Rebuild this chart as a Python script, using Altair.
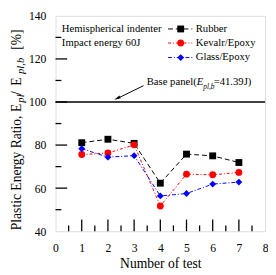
import altair as alt
import pandas as pd

# ---- data ----
tests = [1, 2, 3, 4, 5, 6, 7]
rubber = [81.1, 82.7, 80.8, 62.3, 75.8, 75.0, 71.9]
kevlar = [75.6, 76.3, 80.1, 51.7, 66.5, 66.2, 67.3]
glass = [78.3, 74.4, 75.1, 56.4, 57.5, 61.9, 62.8]

series_names = ["Rubber", "Kevalr/Epoxy", "Glass/Epoxy"]
series_colors = ["#000000", "#ff0000", "#0000ff"]
series_shapes = ["square", "circle", "diamond"]
series_dashes = [[5, 3], [3, 2, 1, 2], [4, 2, 1, 2]]

base_value = [100]
x_labels = [0, 1, 2, 3, 4, 5, 6, 7, 8]
y_labels = [40, 60, 80, 100, 120, 140]
x_major = [1, 2, 3, 4, 5, 6, 7]
x_minor = [0.5, 1.5, 2.5, 3.5, 4.5, 5.5, 6.5, 7.5]
y_major = [60, 80, 100, 120]
y_minor = [50, 70, 90, 110, 130]

FONT = "Liberation Serif"
W, H = 216, 222

rows = []
for name, vals in zip(series_names, [rubber, kevlar, glass]):
    for t, v in zip(tests, vals):
        rows.append({"test": t, "value": v, "series": name})
df = pd.DataFrame(rows)

xscale = alt.Scale(domain=[0, 8], nice=False, zero=False)
yscale = alt.Scale(domain=[40, 140], nice=False, zero=False)

color = alt.Color("series:N", scale=alt.Scale(domain=series_names, range=series_colors), legend=None)
shape = alt.Shape("series:N", scale=alt.Scale(domain=series_names, range=series_shapes), legend=None)
dash = alt.StrokeDash("series:N", scale=alt.Scale(domain=series_names, range=series_dashes), legend=None)

xaxis = alt.Axis(values=x_labels, title="Number of test", grid=False, ticks=False, tickSize=0,
                 domain=False, labelFont=FONT, labelFontSize=12, labelColor="black",
                 labelBaseline="alphabetic", labelPadding=21, labelFlush=False,
                 titleFont=FONT, titleFontSize=14, titleFontWeight="normal", titleColor="black",
                 titleBaseline="alphabetic", titleY=37, format="d")
yaxis = alt.Axis(values=y_labels, title=None, grid=False, ticks=False, tickSize=0, domain=False,
                 labelFont=FONT, labelFontSize=12, labelColor="black", labelPadding=10,
                 labelFlush=False, format="d")


def X(f):
    return alt.X(f, scale=xscale, axis=xaxis, title="Number of test")


def Y(f):
    return alt.Y(f, scale=yscale, axis=yaxis, title=None)


lines = alt.Chart(df).mark_line(strokeWidth=1).encode(
    x=X("test:Q"), y=Y("value:Q"),
    color=color, strokeDash=dash, detail="series:N")

points = alt.Chart(df).mark_point(filled=True, opacity=1, size=50).encode(
    x=X("test:Q"), y=Y("value:Q"), color=color, shape=shape)

base = alt.Chart(pd.DataFrame({"value": base_value})).mark_rule(color="black", strokeWidth=1.5).encode(
    y=Y("value:Q"))

ytick_maj = alt.Chart(pd.DataFrame({"value": y_major})).mark_rule(color="black", strokeWidth=1.3).encode(
    y=Y("value:Q"), x=alt.value(0), x2=alt.value(12))
ytick_min = alt.Chart(pd.DataFrame({"value": y_minor})).mark_rule(color="black", strokeWidth=1.3).encode(
    y=Y("value:Q"), x=alt.value(0), x2=alt.value(6))
xtick_maj = alt.Chart(pd.DataFrame({"test": x_major})).mark_rule(color="black", strokeWidth=1.3).encode(
    x=X("test:Q"), y=alt.value(H), y2=alt.value(H - 12))
xtick_min = alt.Chart(pd.DataFrame({"test": x_minor})).mark_rule(color="black", strokeWidth=1.3).encode(
    x=X("test:Q"), y=alt.value(H), y2=alt.value(H - 6))

one = pd.DataFrame({"a": [0]})


def txt(s, x, y, size=11, style="normal", angle=0, baseline="middle"):
    return alt.Chart(one).mark_text(text=s, font=FONT, fontSize=size, fontStyle=style,
                                    align="left", baseline=baseline, angle=angle,
                                    color="black").encode(x=alt.value(x), y=alt.value(y))


layers = [lines, points, base, ytick_maj, ytick_min, xtick_maj, xtick_min]

# legend (drawn by hand)
leg_y = [13.5, 28, 43]
for name, col, shp, dsh, ly in zip(series_names, series_colors, series_shapes, series_dashes, leg_y):
    layers.append(alt.Chart(one).mark_rule(color=col, strokeWidth=1, strokeDash=dsh).encode(
        x=alt.value(116), x2=alt.value(141), y=alt.value(ly)))
    layers.append(alt.Chart(one).mark_point(color=col, filled=True, opacity=1, shape=shp, size=50).encode(
        x=alt.value(129), y=alt.value(ly)))
    layers.append(txt(name, 144.5, ly))

layers.append(txt("Hemispherical indenter", 6.5, 13.3))
layers.append(txt("Impact energy 60J", 6.5, 28.3))

# base-panel annotation
layers.append(txt("Base panel(", 94, 71.3, baseline="alphabetic"))
layers.append(txt("E", 145.6, 71.3, style="italic", baseline="alphabetic"))
layers.append(txt("pl,b", 152.3, 75, size=7.5, style="italic", baseline="alphabetic"))
layers.append(txt("=41.39J)", 163, 71.3, baseline="alphabetic"))
layers.append(alt.Chart(one).mark_rule(color="black", strokeWidth=1).encode(
    x=alt.value(90.7), y=alt.value(72), x2=alt.value(63), y2=alt.value(85.5)))
layers.append(alt.Chart(one).mark_point(color="black", filled=True, opacity=1,
                                        shape="M0,-1L0.45,1L-0.45,1Z", size=45, angle=244).encode(
    x=alt.value(63.5), y=alt.value(85)))

# y-axis title with subscripts (rotated pieces)
layers.append(txt("Plastic Energy Ratio, E", -36, 221, size=14, angle=270, baseline="alphabetic"))
layers.append(txt("pl", -32.5, 89.5, size=11, style="italic", angle=270, baseline="alphabetic"))
layers.append(txt("/", -36, 81.5, size=14, angle=270, baseline="alphabetic"))
layers.append(txt("E", -36, 72, size=14, angle=270, baseline="alphabetic"))
layers.append(txt("pl,b", -32.5, 60, size=11, style="italic", angle=270, baseline="alphabetic"))
layers.append(txt("[%]", -36, 35, size=14, angle=270, baseline="alphabetic"))

chart = alt.layer(*layers).properties(
    width=W, height=H,
    autosize=alt.AutoSizeParams(type="none"),
    padding={"left": 49, "top": 4, "right": 3, "bottom": 40},
).configure_view(stroke="black", strokeWidth=2).configure(background="white")

chart.save("out.html", embed_options={"renderer": "svg", "actions": False})
